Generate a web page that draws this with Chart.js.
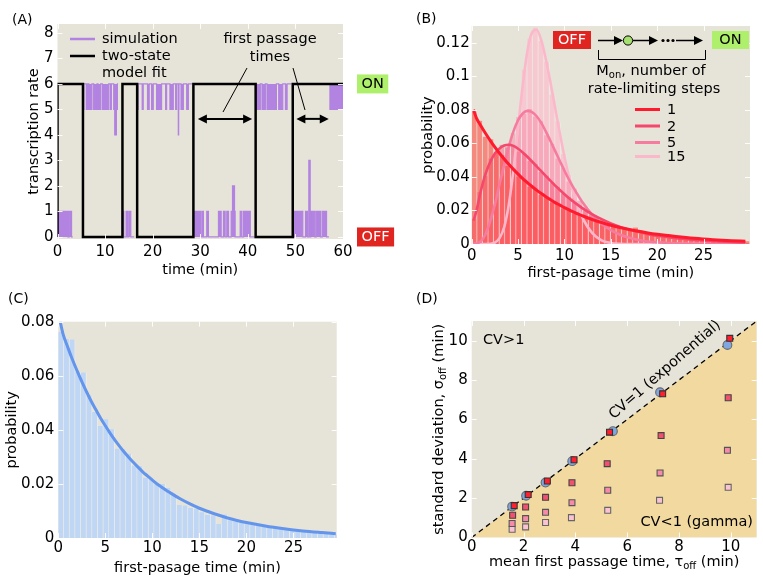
<!DOCTYPE html>
<html>
<head>
<meta charset="utf-8">
<script src="https://cdn.jsdelivr.net/npm/chart.js@4.4.0/dist/chart.umd.min.js"></script>
<style>
  body { margin: 0; background: #fff; }
  #wrap { position: relative; width: 763px; height: 585px; overflow: hidden; }
  canvas { position: absolute; }
</style>
</head>
<body>
<div id="wrap">
  <canvas id="chartA" width="400" height="290" style="left:0;top:0;width:400px;height:290px"></canvas>
  <canvas id="chartB" width="383" height="290" style="left:380px;top:0;width:383px;height:290px"></canvas>
  <canvas id="chartC" width="380" height="295" style="left:0;top:290px;width:380px;height:295px"></canvas>
  <canvas id="chartD" width="383" height="295" style="left:380px;top:290px;width:383px;height:295px"></canvas>
</div>
<script>
// ---- (A) transcription trace ----
// simulated trace: time of each change (min) and rate after it
var simTimes = [0, 0.1, 2.2, 2.45, 2.95, 3.2,
  5.35, 5.56, 6.05, 6.19, 6.3, 6.45, 6.61, 7.24, 7.6, 8.3, 8.51, 9.07, 9.43, 10.76, 11.11, 11.32, 11.82, 12.03, 12.38, 12.59, 12.73,
  13.65, 13.93, 14.42, 14.7, 14.98, 15.4, 16.11,
  16.74, 16.95, 17.8, 18.01, 18.92, 19.27, 19.77, 20.12, 20.82, 21.87, 22.72, 22.93, 23.63, 24.33, 24.83, 25.04, 25.39, 25.46, 25.53, 25.96, 26.45, 27.15, 27.5, 28.35,
  28.56, 30.17, 30.46, 30.66, 31.37, 31.72, 33.83, 34.39, 34.88, 35.23, 35.58, 35.94, 36.5, 36.78, 37.2, 37.33, 38.4, 38.75, 39.1, 40.51, 41.42,
  41.64, 42.62, 42.98, 43.68, 44.03, 46.0, 46.49, 47.34, 47.9, 48.25, 49.17,
  49.44, 49.65, 49.87, 51.55, 52.12, 52.54, 52.82, 53.1, 53.22, 54.08, 54.36, 55.28, 55.63, 56.54, 57.03,
  57.25, 57.38, 60];
var simRates = [1, 0, 1, 0, 1, 0,
  6, 5, 6, 5, 6, 5, 6, 5, 6, 5, 6, 5, 6, 5, 6, 5, 6, 5, 4, 5, 6,
  0, 1, 0, 1, 0, 1, 0,
  6, 5, 6, 5, 6, 5, 6, 5, 6, 5, 6, 5, 6, 5, 6, 5, 6, 4, 5, 6, 5, 6, 5, 6,
  0, 1, 0, 1, 0, 1, 0, 1, 0, 1, 0, 1, 0, 1, 2, 1, 0, 1, 0, 1, 0,
  6, 5, 6, 5, 6, 5, 6, 5, 6, 5, 6,
  0, 1, 0, 1, 0, 1, 0, 3, 0, 1, 0, 1, 0, 1, 0,
  6, 5, 5];
// two-state model fit
var fitTimes = [0, 5.35, 13.65, 16.74, 28.56, 41.64, 49.44, 57.25, 60];
var fitRates = [0, 6, 0, 6, 0, 6, 0, 6, 6];
var onRate = 6, offRate = 0;
var passageStart = [29.5, 50.2];
var passageEnd = [40.9, 57.0];
var passageLevel = 4.63;
var xTicksA = [0, 10, 20, 30, 40, 50, 60];
var yTicksA = [0, 1, 2, 3, 4, 5, 6, 7, 8];

// ---- (B) first-passage distributions, M_on = 1, 2, 5, 15 ----
var stepLabels = ['1', '2', '5', '15'];
var binCenters = [0.3, 0.9, 1.5, 2.1, 2.7, 3.3, 3.9, 4.5, 5.1, 5.7, 6.3, 6.9, 7.5, 8.1, 8.7, 9.3, 9.9, 10.5, 11.1, 11.7,
  12.3, 12.9, 13.5, 14.1, 14.7, 15.3, 15.9, 16.5, 17.1, 17.7, 18.3, 18.9, 19.5, 20.1, 20.7, 21.3, 21.9, 22.5, 23.1, 23.7,
  24.3, 24.9, 25.5, 26.1, 26.7, 27.3, 27.9, 28.5, 29.1, 29.7];
var histM1 = [0.0790, 0.0735, 0.0640, 0.0625, 0.0548, 0.0530, 0.0465, 0.0450, 0.0402, 0.0385,
  0.0342, 0.0330, 0.0292, 0.0281, 0.0248, 0.0240, 0.0212, 0.0207, 0.0181, 0.0176,
  0.0155, 0.0150, 0.0131, 0.0129, 0.0112, 0.0110, 0.0097, 0.0094, 0.0083, 0.0098,
  0.0071, 0.0068, 0.0060, 0.0058, 0.0051, 0.0050, 0.0044, 0.0043, 0.0038, 0.0037,
  0.0032, 0.0031, 0.0027, 0.0027, 0.0023, 0.0023, 0.0020, 0.0020, 0.0017, 0.0016];
var histM2 = [0.0150, 0.0310, 0.0405, 0.0510, 0.0545, 0.0592, 0.0580, 0.0590, 0.0552, 0.0540,
  0.0495, 0.0478, 0.0430, 0.0408, 0.0365, 0.0342, 0.0300, 0.0282, 0.0246, 0.0230,
  0.0198, 0.0185, 0.0160, 0.0148, 0.0128, 0.0117, 0.0100, 0.0093, 0.0078, 0.0073,
  0.0062, 0.0056, 0.0048, 0.0044, 0.0037, 0.0034, 0.0029, 0.0026, 0.0023, 0.0020,
  0.0018, 0.0015, 0.0013, 0.0012, 0.0010, 0.0009, 0.0008, 0.0007, 0.0006, 0.0005];
var histM5 = [0.0000, 0.0010, 0.0062, 0.0145, 0.0285, 0.0405, 0.0572, 0.0660, 0.0758, 0.0775,
  0.0805, 0.0760, 0.0735, 0.0648, 0.0598, 0.0510, 0.0455, 0.0372, 0.0330, 0.0258,
  0.0222, 0.0172, 0.0146, 0.0110, 0.0093, 0.0069, 0.0058, 0.0042, 0.0035, 0.0025,
  0.0020, 0.0014, 0.0012, 0.0008, 0.0007, 0.0005, 0.0004, 0.0003, 0.0002, 0.0001,
  0, 0, 0, 0, 0, 0, 0, 0, 0, 0];
var histM15 = [0, 0, 0, 0, 0.0012, 0.0058, 0.0195, 0.0455, 0.0740, 0.1040,
  0.1225, 0.1290, 0.1210, 0.1085, 0.0890, 0.0730, 0.0535, 0.0410, 0.0275, 0.0185,
  0.0118, 0.0068, 0.0040, 0.0020, 0.0010, 0.0005, 0, 0, 0, 0,
  0, 0, 0, 0, 0, 0, 0, 0, 0, 0,
  0, 0, 0, 0, 0, 0, 0, 0, 0, 0];
var curveT = [0.2, 0.5, 1, 1.5, 2, 2.5, 3, 3.5, 4, 4.5, 5, 5.5, 6, 6.5, 7, 7.5, 8, 8.5, 9, 9.5,
  10, 10.5, 11, 12, 13, 14, 15, 16, 17, 18, 19, 20, 22, 24, 26, 28, 29.5];
var curveM1 = [0.0800, 0.0752, 0.0704, 0.0659, 0.0617, 0.0578, 0.0541, 0.0507, 0.0475, 0.0445,
  0.0417, 0.0390, 0.0366, 0.0343, 0.0321, 0.0301, 0.0282, 0.0264, 0.0247, 0.0232,
  0.0217, 0.0204, 0.0190, 0.0167, 0.0146, 0.0128, 0.0112, 0.0098, 0.0086, 0.0076,
  0.0066, 0.0058, 0.0045, 0.0034, 0.0026, 0.0020, 0.0017];
var curveM2 = [0.0140, 0.0195, 0.0320, 0.0420, 0.0490, 0.0540, 0.0570, 0.0587, 0.0592, 0.0585,
  0.0568, 0.0546, 0.0520, 0.0492, 0.0463, 0.0434, 0.0405, 0.0376, 0.0348, 0.0322,
  0.0297, 0.0273, 0.0251, 0.0211, 0.0177, 0.0148, 0.0123, 0.0102, 0.0085, 0.0071,
  0.0059, 0.0049, 0.0034, 0.0024, 0.0017, 0.0012, 0.0009];
var curveM5 = [0, 0.0002, 0.0017, 0.0060, 0.0136, 0.0236, 0.0356, 0.0472, 0.0581, 0.0672,
  0.0738, 0.0778, 0.0794, 0.0787, 0.0762, 0.0722, 0.0670, 0.0613, 0.0554, 0.0495,
  0.0437, 0.0383, 0.0333, 0.0244, 0.0174, 0.0121, 0.0083, 0.0055, 0.0037, 0.0024,
  0.0015, 0.0010, 0.0004, 0.0001, 0, 0, 0];
var curveM15 = [0, 0, 0, 0, 0.0001, 0.0008, 0.0035, 0.0100, 0.0235, 0.0440,
  0.0695, 0.0945, 0.1150, 0.1260, 0.1278, 0.1215, 0.1100, 0.0960, 0.0810, 0.0660,
  0.0520, 0.0400, 0.0300, 0.0150, 0.0065, 0.0022, 0.0006, 0.0001, 0, 0,
  0, 0, 0, 0, 0, 0, 0];
var xTicksB = [0, 5, 10, 15, 20, 25];
var yTicksB = [0, 0.02, 0.04, 0.06, 0.08, 0.1, 0.12];

// ---- (C) exponential fit ----
var histC = [0.0763, 0.0736, 0.0734, 0.0615, 0.0612, 0.0528, 0.0466, 0.0414, 0.0439, 0.0402,
  0.0330, 0.0328, 0.0312, 0.0268, 0.0265, 0.0223, 0.0220, 0.0203, 0.0200, 0.0185,
  0.0163, 0.0122, 0.0120, 0.0111, 0.0108, 0.0095, 0.0085, 0.0083, 0.0052, 0.0087,
  0.0066, 0.0062, 0.0058, 0.0055, 0.0050, 0.0046, 0.0042, 0.0040, 0.0037, 0.0034,
  0.0032, 0.0029, 0.0027, 0.0025, 0.0023, 0.0021, 0.0019, 0.0018, 0.0016, 0.0013];
var curveC = [0.0800, 0.0755, 0.0706, 0.0660, 0.0618, 0.0578, 0.0541, 0.0506, 0.0474, 0.0443,
  0.0415, 0.0388, 0.0363, 0.0340, 0.0318, 0.0298, 0.0279, 0.0261, 0.0244, 0.0229,
  0.0214, 0.0200, 0.0188, 0.0165, 0.0144, 0.0126, 0.0110, 0.0097, 0.0085, 0.0074,
  0.0065, 0.0057, 0.0044, 0.0034, 0.0026, 0.0020, 0.0016];
var yTicksC = [0, 0.02, 0.04, 0.06, 0.08];

// ---- (D) mean vs standard deviation ----
var dMeanSim = [1.56, 2.10, 2.85, 3.88, 5.45, 7.27, 9.87];
var dStdSim = [1.57, 2.12, 2.79, 3.88, 5.40, 7.38, 9.78];
var dMean1 = [1.64, 2.18, 2.92, 3.95, 5.32, 7.37, 9.96];
var dStd1 = [1.62, 2.18, 2.87, 3.95, 5.35, 7.30, 10.12];
var dMean2 = [1.58, 2.08, 2.85, 3.87, 5.23, 7.31, 9.90];
var dStd2 = [1.13, 1.55, 2.04, 2.78, 3.75, 5.18, 7.10];
var dMean5 = [1.56, 2.08, 2.85, 3.87, 5.25, 7.27, 9.87];
var dStd5 = [0.71, 0.96, 1.28, 1.77, 2.40, 3.28, 4.43];
var dMean15 = [1.56, 2.08, 2.85, 3.85, 5.25, 7.25, 9.90];
var dStd15 = [0.42, 0.54, 0.76, 1.01, 1.38, 1.89, 2.55];
var diagonal = [0, 11];
var ticksD = [0, 2, 4, 6, 8, 10];

// ---- styles ----
var FONT = '"DejaVu Sans", Verdana, sans-serif';
var TICK = 15, TXT = 14.5;
var BG = '#e6e3d8';
var SIM = '#b283e0';
var curveColors = ['#ff1a2e', '#f4486c', '#f67c9f', '#fcb8cb'];
var histColors = ['rgba(255,64,52,0.55)', 'rgba(244,84,118,0.45)', 'rgba(248,128,160,0.45)', 'rgba(255,188,205,0.65)'];

Chart.defaults.font.family = FONT;
Chart.defaults.color = '#000';
Chart.defaults.animation = false;
Chart.defaults.plugins.legend.display = false;
Chart.defaults.plugins.tooltip.enabled = false;

function pts(xs, ys) {
  return xs.map(function(x, i) { return {x: x, y: ys[i]}; });
}

// simulated points near one state only, gaps elsewhere
function simPart(level) {
  return simTimes.map(function(t, i) {
    var r = simRates[i];
    var near = Math.abs(r - level) <= 3;
    return {x: t, y: near ? r : null};
  });
}

// one axis with forced size and fixed tick list
function axis(min, max, ticks, size, pad, title, titlePad) {
  return {
    type: 'linear', min: min, max: max, offset: false,
    afterBuildTicks: function(s) { s.ticks = ticks.map(function(v) { return {value: v}; }); },
    afterFit: function(s) { if (s.isHorizontal()) s.height = size; else s.width = size; },
    grid: { display: false, drawTicks: false },
    border: { display: false },
    ticks: { padding: pad, color: '#000', font: { size: TICK }, maxRotation: 0, autoSkip: false,
      callback: function(v) { return String(v); } },
    title: title ? { display: true, text: title, color: '#000', font: { size: TXT }, padding: titlePad } : { display: false }
  };
}

// background + small white ticks on all four sides
function framePlugin() {
  return {
    id: 'frame',
    beforeDraw: function(chart) {
      var a = chart.chartArea, ctx = chart.ctx;
      ctx.save();
      ctx.fillStyle = BG;
      ctx.fillRect(a.left, a.top, a.right - a.left, a.bottom - a.top);
      ctx.restore();
    },
    afterDatasetsDraw: function(chart) {
      var a = chart.chartArea, ctx = chart.ctx, sx = chart.scales.x, sy = chart.scales.y;
      ctx.save();
      ctx.strokeStyle = 'rgba(255,255,255,0.9)';
      ctx.lineWidth = 1;
      ctx.beginPath();
      sx.ticks.forEach(function(t) {
        var p = Math.round(sx.getPixelForValue(t.value)) + 0.5;
        ctx.moveTo(p, a.top); ctx.lineTo(p, a.top + 5);
        ctx.moveTo(p, a.bottom); ctx.lineTo(p, a.bottom - 5);
      });
      sy.ticks.forEach(function(t) {
        var p = Math.round(sy.getPixelForValue(t.value)) + 0.5;
        ctx.moveTo(a.left, p); ctx.lineTo(a.left + 5, p);
        ctx.moveTo(a.right, p); ctx.lineTo(a.right - 5, p);
      });
      ctx.stroke();
      ctx.restore();
    }
  };
}

function text(ctx, s, x, y, align, size, color) {
  ctx.font = (size || TXT) + 'px ' + FONT;
  ctx.fillStyle = color || '#000';
  ctx.textAlign = align || 'left';
  ctx.textBaseline = 'middle';
  ctx.fillText(s, x, y);
}

// text with subscript parts
function richText(ctx, parts, x, y, align) {
  var big = TXT + 'px ' + FONT, small = Math.round(TXT * 0.72) + 'px ' + FONT, w = 0;
  parts.forEach(function(p) { ctx.font = p.sub ? small : big; p.w = ctx.measureText(p.t).width; w += p.w; });
  var cx = align === 'center' ? x - w / 2 : x;
  ctx.fillStyle = '#000';
  ctx.textAlign = 'left';
  ctx.textBaseline = 'middle';
  parts.forEach(function(p) {
    ctx.font = p.sub ? small : big;
    ctx.fillText(p.t, cx, p.sub ? y + TXT * 0.32 : y);
    cx += p.w;
  });
}

function line(ctx, x0, y0, x1, y1) {
  ctx.beginPath(); ctx.moveTo(x0, y0); ctx.lineTo(x1, y1); ctx.stroke();
}

function head(ctx, x, y, dir) {
  ctx.beginPath();
  ctx.moveTo(x, y);
  ctx.lineTo(x - dir * 9, y - 4.5);
  ctx.lineTo(x - dir * 9, y + 4.5);
  ctx.closePath();
  ctx.fill();
}

function stateBox(ctx, s, x, y, bg, fg) {
  ctx.font = TXT + 'px ' + FONT;
  var w = ctx.measureText(s).width + 9;
  ctx.fillStyle = bg;
  ctx.fillRect(x, y - 9.5, w, 19);
  text(ctx, s, x + w / 2, y + 0.5, 'center', TXT, fg);
}

var extrasA = {
  id: 'extrasA',
  afterDraw: function(chart) {
    var ctx = chart.ctx, sx = chart.scales.x, sy = chart.scales.y;
    ctx.save();
    text(ctx, '(A)', 12, 20, 'left', 14);
    ctx.lineWidth = 2.5;
    ctx.strokeStyle = SIM; line(ctx, 70, 39, 95, 39);
    ctx.strokeStyle = '#000'; line(ctx, 70, 56, 95, 56);
    text(ctx, 'simulation', 102, 39);
    text(ctx, 'two-state', 102, 56);
    text(ctx, 'model fit', 102, 73);
    text(ctx, 'first passage', 270, 39, 'center');
    text(ctx, 'times', 270, 57, 'center');
    ctx.lineWidth = 1;
    line(ctx, 247, 68, 223, 112);
    line(ctx, 293, 68, 305, 110);
    ctx.lineWidth = 2;
    ctx.fillStyle = '#000';
    passageStart.forEach(function(t0, i) {
      var x0 = sx.getPixelForValue(t0), x1 = sx.getPixelForValue(passageEnd[i]), py = sy.getPixelForValue(passageLevel);
      line(ctx, x0 + 4, py, x1 - 4, py);
      head(ctx, x0, py, -1);
      head(ctx, x1, py, 1);
    });
    stateBox(ctx, 'ON', 357, sy.getPixelForValue(onRate), '#aef06c', '#000');
    stateBox(ctx, 'OFF', 357, sy.getPixelForValue(offRate), '#e02420', '#fff');
    ctx.restore();
  }
};

var extrasB = {
  id: 'extrasB',
  afterDraw: function(chart) {
    var ctx = chart.ctx;
    ctx.save();
    text(ctx, '(B)', 36, 19, 'left', 14);
    // OFF -> o -> ... -> ON scheme
    ctx.fillStyle = '#e02420'; ctx.fillRect(173, 31, 38, 18);
    text(ctx, 'OFF', 192, 40.5, 'center', TXT, '#fff');
    ctx.fillStyle = '#aef06c'; ctx.fillRect(332, 31, 37, 18);
    text(ctx, 'ON', 350.5, 40.5, 'center', TXT, '#000');
    ctx.strokeStyle = '#000'; ctx.fillStyle = '#000'; ctx.lineWidth = 1.5;
    line(ctx, 218, 40.5, 236, 40.5); head(ctx, 243, 40.5, 1);
    line(ctx, 253, 40.5, 271, 40.5); head(ctx, 278, 40.5, 1);
    line(ctx, 296, 40.5, 316, 40.5); head(ctx, 323, 40.5, 1);
    [283, 288, 293].forEach(function(x) { ctx.beginPath(); ctx.arc(x, 40.5, 1.6, 0, Math.PI * 2); ctx.fill(); });
    ctx.beginPath(); ctx.arc(248, 40.5, 4.6, 0, Math.PI * 2);
    ctx.fillStyle = '#a6e070'; ctx.fill(); ctx.lineWidth = 1; ctx.stroke();
    ctx.lineWidth = 1;
    ctx.beginPath(); ctx.moveTo(218.5, 50); ctx.lineTo(218.5, 59.5); ctx.lineTo(325.5, 59.5); ctx.lineTo(325.5, 50); ctx.stroke();
    richText(ctx, [{t: 'M'}, {t: 'on', sub: true}, {t: ', number of'}], 271, 71, 'center');
    text(ctx, 'rate-limiting steps', 274, 89, 'center');
    // legend
    var ly = [109.5, 126, 142.5, 156.5];
    stepLabels.forEach(function(s, i) {
      ctx.strokeStyle = curveColors[i]; ctx.lineWidth = 3;
      line(ctx, 255, ly[i], 280, ly[i]);
      text(ctx, s, 287, ly[i] + 1);
    });
    ctx.restore();
  }
};

var extrasC = {
  id: 'extrasC',
  afterDraw: function(chart) {
    chart.ctx.save();
    text(chart.ctx, '(C)', 8, 9, 'left', 14);
    chart.ctx.restore();
  }
};

var extrasD = {
  id: 'extrasD',
  afterDraw: function(chart) {
    var ctx = chart.ctx, a = chart.chartArea;
    ctx.save();
    text(ctx, '(D)', 36, 9, 'left', 14);
    text(ctx, 'CV>1', 103, 50);
    text(ctx, 'CV<1 (gamma)', 373, 232, 'right');
    ctx.save();
    ctx.translate(285, 80);
    ctx.rotate(-41 * Math.PI / 180);
    text(ctx, 'CV=1 (exponential)', 0, 0, 'center');
    ctx.restore();
    richText(ctx, [{t: 'mean first passage time, \u03c4'}, {t: 'off', sub: true}, {t: ' (min)'}], (a.left + a.right) / 2, 272, 'center');
    ctx.save();
    ctx.translate(59, (a.top + a.bottom) / 2);
    ctx.rotate(-Math.PI / 2);
    richText(ctx, [{t: 'standard deviation, \u03c3'}, {t: 'off', sub: true}, {t: ' (min)'}], 0, 0, 'center');
    ctx.restore();
    ctx.restore();
  }
};

// (A)
new Chart(document.getElementById('chartA'), {
  type: 'line',
  data: { datasets: [
    { data: pts(fitTimes, fitRates), stepped: 'after', borderColor: '#000', borderWidth: 2.5, pointRadius: 0, fill: false },
    { data: simPart(onRate), stepped: 'after', borderColor: SIM, backgroundColor: SIM, borderWidth: 1.2, pointRadius: 0,
      spanGaps: false, fill: { value: onRate } },
    { data: simPart(offRate), stepped: 'after', borderColor: SIM, backgroundColor: SIM, borderWidth: 1.2, pointRadius: 0,
      spanGaps: false, fill: { value: offRate } }
  ]},
  options: {
    responsive: false, devicePixelRatio: 1,
    layout: { padding: { top: 24, right: 57, left: 0, bottom: 0 } },
    scales: {
      x: axis(0, 60, xTicksA, 51, 4, 'time (min)', { top: 0, bottom: 11 }),
      y: axis(-0.08, 8.35, yTicksA, 57.5, 4, 'transcription rate', { top: 26, bottom: 0 })
    }
  },
  plugins: [framePlugin(), extrasA]
});

// (B)
var curvesB = [curveM1, curveM2, curveM5, curveM15];
var histsB = [histM1, histM2, histM5, histM15];
var setsB = [];
curvesB.forEach(function(c, i) {
  setsB.push({ type: 'line', data: pts(curveT, c), borderColor: curveColors[i], borderWidth: i === 0 ? 3 : 2.6,
    pointRadius: 0, cubicInterpolationMode: 'monotone', fill: false });
});
histsB.forEach(function(h, i) {
  setsB.push({ type: 'bar', data: pts(binCenters, h), backgroundColor: histColors[i], borderColor: 'rgba(255,255,255,0.25)',
    borderWidth: { left: 0, right: 1, top: 0, bottom: 0 }, borderSkipped: false, grouped: false, barPercentage: 1, categoryPercentage: 1 });
});
new Chart(document.getElementById('chartB'), {
  type: 'line',
  data: { datasets: setsB },
  options: {
    responsive: false, devicePixelRatio: 1,
    layout: { padding: { top: 26, right: 13, left: 0, bottom: 0 } },
    scales: {
      x: axis(0, 30, xTicksB, 46, 3, 'first-pasage time (min)', { top: 0, bottom: 8 }),
      y: axis(0, 0.13, yTicksB, 91.7, 2, 'probability', { top: 40, bottom: 0 })
    }
  },
  plugins: [framePlugin(), extrasB]
});

// (C)
new Chart(document.getElementById('chartC'), {
  type: 'line',
  data: { datasets: [
    { type: 'line', data: pts(curveT, curveC), borderColor: '#6495ec', borderWidth: 3, pointRadius: 0, cubicInterpolationMode: 'monotone', fill: false },
    { type: 'bar', data: pts(binCenters, histC), backgroundColor: '#bfd7f4', borderColor: 'rgba(255,255,255,0.35)',
      borderWidth: { left: 0, right: 1, top: 0, bottom: 0 }, borderSkipped: false, grouped: false, barPercentage: 1, categoryPercentage: 1 }
  ]},
  options: {
    responsive: false, devicePixelRatio: 1,
    layout: { padding: { top: 31.7, right: 43.3, left: 0, bottom: 0 } },
    scales: {
      x: axis(0, 29.6, xTicksB, 47, 1, 'first-pasage time (min)', { top: 0, bottom: 8 }),
      y: axis(0, 0.08, yTicksC, 58.3, 4, 'probability', { top: 4, bottom: 0 })
    }
  },
  plugins: [framePlugin(), extrasC]
});

// (D)
function dots(xs, ys, style, r, fillCol, edge) {
  return { data: pts(xs, ys), showLine: false, pointStyle: style, pointRadius: r, backgroundColor: fillCol,
    borderColor: edge, borderWidth: 1.1, fill: false };
}
new Chart(document.getElementById('chartD'), {
  type: 'line',
  data: { datasets: [
    dots(dMean1, dStd1, 'rect', 4.2, '#ff1f2d', '#333'),
    dots(dMeanSim, dStdSim, 'circle', 4.4, '#7ea6e0', '#6a6a6a'),
    dots(dMean2, dStd2, 'rect', 4.2, '#f2506e', '#444'),
    dots(dMean5, dStd5, 'rect', 4.2, '#f68aa8', '#555'),
    dots(dMean15, dStd15, 'rect', 4.2, '#fbc3d2', '#666'),
    { data: pts(diagonal, diagonal), borderColor: '#000', borderDash: [5, 4], borderWidth: 1.3, pointRadius: 0,
      fill: 'origin', backgroundColor: '#f1d9a0' }
  ]},
  options: {
    responsive: false, devicePixelRatio: 1,
    layout: { padding: { top: 31, right: 6.3, left: 0, bottom: 0 } },
    scales: {
      x: axis(0, 11, ticksD, 47.5, 1, null, null),
      y: axis(0, 11, ticksD, 91.7, 4, null, null)
    }
  },
  plugins: [framePlugin(), extrasD]
});
</script>
</body>
</html>
